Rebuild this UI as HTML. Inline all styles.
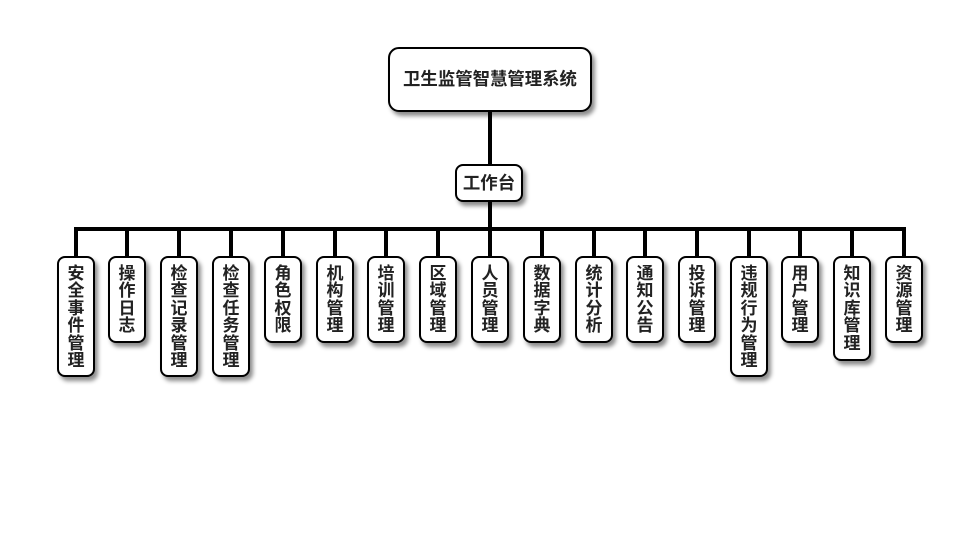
<!DOCTYPE html>
<html>
<head>
<meta charset="utf-8">
<style>
  html, body { margin:0; padding:0; background:#fff; }
  body { width:980px; height:560px; position:relative; overflow:hidden;
         font-family:"Liberation Sans","Noto Sans CJK SC",sans-serif; font-weight:bold; color:#222; }
  .ln { position:absolute; background:#000; z-index:1; }
  .box { position:absolute; box-sizing:border-box; border:2px solid #000; background:#fff;
         box-shadow:3px 4px 4px rgba(0,0,0,0.45); z-index:2; text-align:center; }
  .title { left:388px; top:47px; width:204px; height:65px; border-radius:11px;
           font-size:17.4px; line-height:61px; }
  .mid { left:455px; top:164px; width:68px; height:38px; border-radius:8px;
         font-size:17.4px; line-height:34px; }
  .leaf { top:256px; width:38px; border-radius:8px; font-size:17px; line-height:17.4px;
          padding-top:7px; }
  .leaf span { display:block; }
</style>
</head>
<body>
<!-- connectors -->
<div class="ln" style="left:488px; top:110px; width:4px; height:56px;"></div>
<div class="ln" style="left:488px; top:200px; width:4px; height:30px;"></div>
<div class="ln" style="left:74px; top:227px; width:832px; height:4px;"></div>

<div class="box title">卫生监管智慧管理系统</div>
<div class="box mid">工作台</div>

<div id="leaves"></div>

<!-- leaf verticals and boxes -->
<div class="ln" style="left:74px; top:229px; width:4px; height:29px;"></div>
<div class="ln" style="left:125px; top:229px; width:4px; height:29px;"></div>
<div class="ln" style="left:177px; top:229px; width:4px; height:29px;"></div>
<div class="ln" style="left:229px; top:229px; width:4px; height:29px;"></div>
<div class="ln" style="left:281px; top:229px; width:4px; height:29px;"></div>
<div class="ln" style="left:333px; top:229px; width:4px; height:29px;"></div>
<div class="ln" style="left:384px; top:229px; width:4px; height:29px;"></div>
<div class="ln" style="left:436px; top:229px; width:4px; height:29px;"></div>
<div class="ln" style="left:488px; top:229px; width:4px; height:29px;"></div>
<div class="ln" style="left:540px; top:229px; width:4px; height:29px;"></div>
<div class="ln" style="left:592px; top:229px; width:4px; height:29px;"></div>
<div class="ln" style="left:643px; top:229px; width:4px; height:29px;"></div>
<div class="ln" style="left:695px; top:229px; width:4px; height:29px;"></div>
<div class="ln" style="left:747px; top:229px; width:4px; height:29px;"></div>
<div class="ln" style="left:798px; top:229px; width:4px; height:29px;"></div>
<div class="ln" style="left:850px; top:229px; width:4px; height:29px;"></div>
<div class="ln" style="left:902px; top:229px; width:4px; height:29px;"></div>

<div class="box leaf" style="left:57px; height:121px;"><span>安</span><span>全</span><span>事</span><span>件</span><span>管</span><span>理</span></div>
<div class="box leaf" style="left:108px; height:87px;"><span>操</span><span>作</span><span>日</span><span>志</span></div>
<div class="box leaf" style="left:160px; height:121px;"><span>检</span><span>查</span><span>记</span><span>录</span><span>管</span><span>理</span></div>
<div class="box leaf" style="left:212px; height:121px;"><span>检</span><span>查</span><span>任</span><span>务</span><span>管</span><span>理</span></div>
<div class="box leaf" style="left:264px; height:87px;"><span>角</span><span>色</span><span>权</span><span>限</span></div>
<div class="box leaf" style="left:316px; height:87px;"><span>机</span><span>构</span><span>管</span><span>理</span></div>
<div class="box leaf" style="left:367px; height:87px;"><span>培</span><span>训</span><span>管</span><span>理</span></div>
<div class="box leaf" style="left:419px; height:87px;"><span>区</span><span>域</span><span>管</span><span>理</span></div>
<div class="box leaf" style="left:471px; height:87px;"><span>人</span><span>员</span><span>管</span><span>理</span></div>
<div class="box leaf" style="left:523px; height:87px;"><span>数</span><span>据</span><span>字</span><span>典</span></div>
<div class="box leaf" style="left:575px; height:87px;"><span>统</span><span>计</span><span>分</span><span>析</span></div>
<div class="box leaf" style="left:626px; height:87px;"><span>通</span><span>知</span><span>公</span><span>告</span></div>
<div class="box leaf" style="left:678px; height:87px;"><span>投</span><span>诉</span><span>管</span><span>理</span></div>
<div class="box leaf" style="left:730px; height:121px;"><span>违</span><span>规</span><span>行</span><span>为</span><span>管</span><span>理</span></div>
<div class="box leaf" style="left:781px; height:87px;"><span>用</span><span>户</span><span>管</span><span>理</span></div>
<div class="box leaf" style="left:833px; height:105px;"><span>知</span><span>识</span><span>库</span><span>管</span><span>理</span></div>
<div class="box leaf" style="left:885px; height:87px;"><span>资</span><span>源</span><span>管</span><span>理</span></div>
</body>
</html>
